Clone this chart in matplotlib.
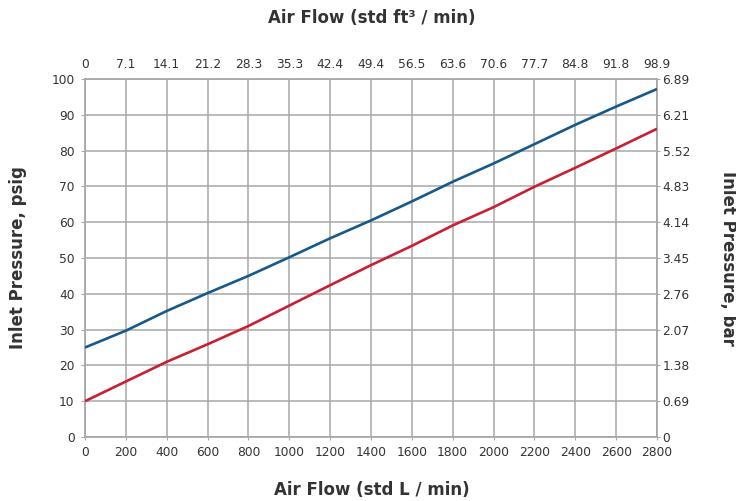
import numpy as np
import matplotlib
matplotlib.use('Agg')
import matplotlib.pyplot as plt

# air flow, std L/min
flow_lpm = [0, 200, 400, 600, 800, 1000, 1200, 1400, 1600, 1800, 2000, 2200, 2400, 2600, 2800]
# inlet pressure, psig
p_blue = [25.0, 29.7, 35.2, 40.2, 45.0, 50.2, 55.5, 60.5, 65.8, 71.3, 76.4, 81.8, 87.2, 92.3, 97.2]
p_red = [10.0, 15.5, 21.0, 25.9, 31.0, 36.7, 42.4, 48.0, 53.4, 59.1, 64.2, 69.9, 75.2, 80.6, 86.1]

top_labels = ['0', '7.1', '14.1', '21.2', '28.3', '35.3', '42.4', '49.4',
              '56.5', '63.6', '70.6', '77.7', '84.8', '91.8', '98.9']
psig_ticks = [0, 10, 20, 30, 40, 50, 60, 70, 80, 90, 100]
bar_labels = ['0', '0.69', '1.38', '2.07', '2.76', '3.45', '4.14', '4.83', '5.52', '6.21', '6.89']

grid_c = '#a8a8a8'
text_c = '#333333'
plt.rcParams['font.family'] = 'DejaVu Sans'

fig = plt.figure(figsize=(7.36, 5.01), dpi=100)
ax = fig.add_axes([85/736, 1-437/501, 572/736, 358/501])

ax.plot(flow_lpm, p_blue, color='#17598a', lw=1.9, solid_capstyle='butt', zorder=3)
ax.plot(flow_lpm, p_red, color='#c91f32', lw=1.9, solid_capstyle='butt', zorder=3)

ax.set_xlim(0, 2800)
ax.set_ylim(0, 100)
ax.set_xticks(flow_lpm)
ax.set_yticks(psig_ticks)
ax.grid(True, color=grid_c, lw=1.1)
ax.set_axisbelow(True)
for s in ax.spines.values():
    s.set_color(grid_c)
    s.set_linewidth(1.3)
ax.tick_params(axis='x', colors=grid_c, labelcolor=text_c, labelsize=8.8, length=2, pad=4.5)
ax.tick_params(axis='y', colors=grid_c, labelcolor=text_c, labelsize=8.8, length=3, pad=4.5)

ax2 = ax.twiny()
ax2.set_xlim(ax.get_xlim())
ax2.set_xticks(flow_lpm)
ax2.set_xticklabels(top_labels)
ax2.tick_params(axis='x', colors=grid_c, labelcolor=text_c, labelsize=8.8, length=0, pad=6)
for s in ax2.spines.values():
    s.set_visible(False)

ax3 = ax.twinx()
ax3.set_ylim(ax.get_ylim())
ax3.set_yticks(psig_ticks)
ax3.set_yticklabels(bar_labels)
ax3.tick_params(axis='y', colors=grid_c, labelcolor=text_c, labelsize=8.8, length=2, pad=2)
for s in ax3.spines.values():
    s.set_visible(False)

fig.text(372/736, 1-490/501, 'Air Flow (std L / min)', ha='center', va='center',
         fontsize=12, fontweight='bold', color=text_c)
fig.text(372/736, 1-18/501, 'Air Flow (std ft³ / min)', ha='center', va='center',
         fontsize=12, fontweight='bold', color=text_c)
fig.text(18/736, 1-258/501, 'Inlet Pressure, psig', ha='center', va='center',
         rotation=90, fontsize=12, fontweight='bold', color=text_c)
fig.text(728/736, 1-258/501, 'Inlet Pressure, bar', ha='center', va='center',
         rotation=270, fontsize=12, fontweight='bold', color=text_c)

fig.savefig('out.png', dpi=100, facecolor='white')
